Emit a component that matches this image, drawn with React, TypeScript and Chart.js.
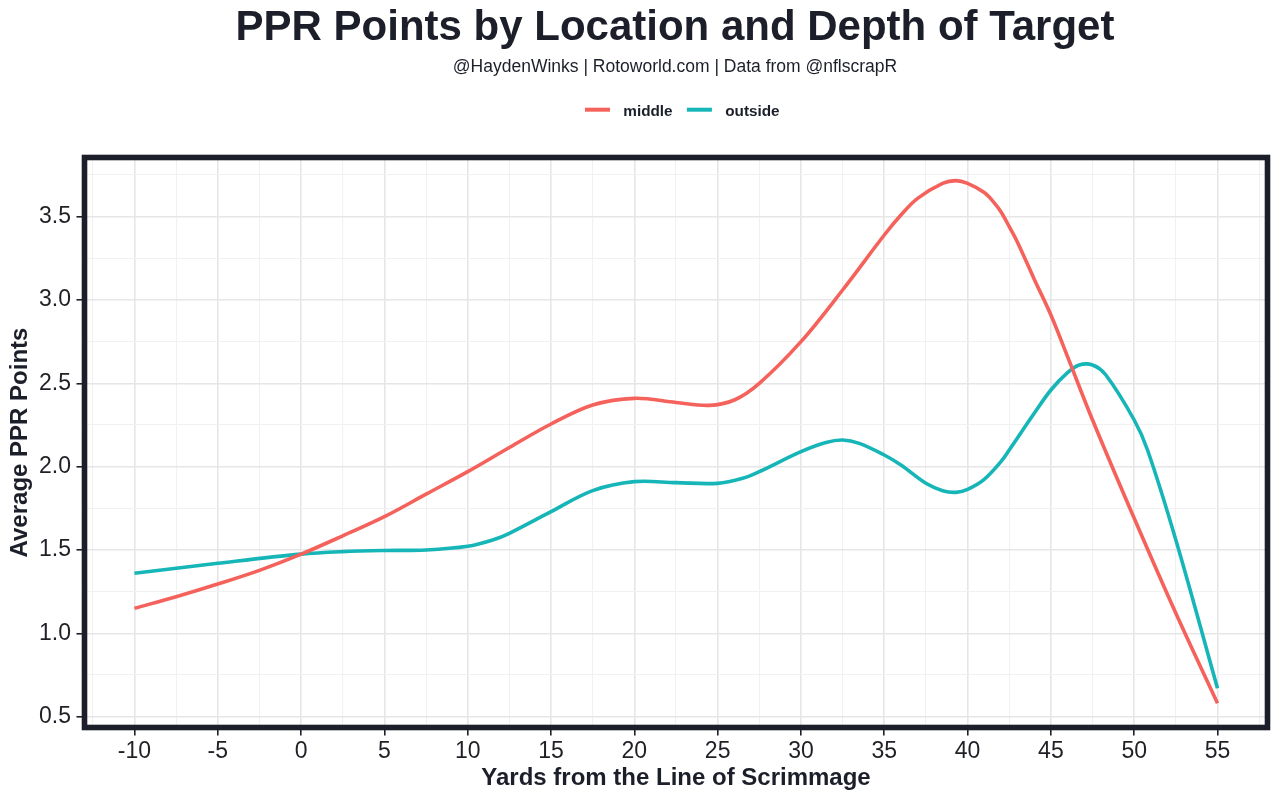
import React, { useEffect, useRef } from 'react';
import { Chart, registerables } from 'chart.js';

Chart.register(...registerables);

const FONT = "'Liberation Sans', Arial, Helvetica, sans-serif";
const INK = '#1c1f2a';
const TICK_INK = '#1f2026';

const TITLE = 'PPR Points by Location and Depth of Target';
const SUBTITLE = '@HaydenWinks | Rotoworld.com | Data from @nflscrapR';
const X_TITLE = 'Yards from the Line of Scrimmage';
const Y_TITLE = 'Average PPR Points';

const seriesLabels = ['middle', 'outside'];
const seriesColors = ['#F5625B', '#16B5B8'];

const middleYards = [-10, -7.5, -5, -2.5, 0, 2.5, 5, 7.5, 10, 12.5, 15, 17.5, 20, 22.5, 24.5, 26, 27.5, 30, 32.5, 35, 36, 37, 38.5, 39.3, 40, 41, 41.5, 42, 42.5, 43, 44, 45, 46, 47.5, 50, 52.5, 55];
const middlePoints = [1.15, 1.22, 1.296, 1.378, 1.475, 1.585, 1.70, 1.835, 1.97, 2.115, 2.256, 2.37, 2.41, 2.385, 2.368, 2.40, 2.50, 2.75, 3.06, 3.39, 3.51, 3.61, 3.70, 3.716, 3.70, 3.645, 3.595, 3.53, 3.44, 3.345, 3.125, 2.91, 2.66, 2.28, 1.69, 1.12, 0.58];

const outsideYards = [-10, -5, 0, 2.5, 5, 7.5, 10, 11.5, 12.5, 15, 17.5, 20, 22.5, 25, 26.5, 27.5, 30, 31.5, 32.5, 33.5, 35, 36, 37.5, 38.5, 39.3, 40, 41, 42, 42.5, 44, 45, 46, 46.7, 47.5, 48.3, 50, 50.8, 52.5, 55];
const outsidePoints = [1.36, 1.42, 1.475, 1.49, 1.497, 1.50, 1.522, 1.56, 1.60, 1.73, 1.856, 1.91, 1.904, 1.90, 1.93, 1.97, 2.09, 2.145, 2.16, 2.14, 2.07, 2.01, 1.90, 1.856, 1.846, 1.864, 1.924, 2.03, 2.10, 2.32, 2.46, 2.564, 2.61, 2.61, 2.55, 2.28, 2.10, 1.56, 0.67];

const xMajorTicks = [-10, -5, 0, 5, 10, 15, 20, 25, 30, 35, 40, 45, 50, 55];
const xMinorTicks = [-12.5, -7.5, -2.5, 2.5, 7.5, 12.5, 17.5, 22.5, 27.5, 32.5, 37.5, 42.5, 47.5, 52.5, 57.5];
const yMajorTicks = [0.5, 1.0, 1.5, 2.0, 2.5, 3.0, 3.5];
const yMinorTicks = [0.75, 1.25, 1.75, 2.25, 2.75, 3.25, 3.75];

const X_MIN = -13;
const X_MAX = 58;
const Y_MIN = 0.435;
const Y_MAX = 3.855;

const isMajorIn = (list: number[], v: number) => list.some((m) => Math.abs(m - v) < 1e-6);

const decorPlugin = {
  id: 'decor',
  afterDraw(chart: any) {
    const { ctx, chartArea } = chart;
    ctx.save();
    // panel border
    ctx.strokeStyle = INK;
    ctx.lineWidth = 5.6;
    ctx.strokeRect(
      chartArea.left,
      chartArea.top,
      chartArea.right - chartArea.left,
      chartArea.bottom - chartArea.top
    );
    const cx = (chartArea.left + chartArea.right) / 2 - 1;
    ctx.fillStyle = INK;
    ctx.textAlign = 'center';
    ctx.textBaseline = 'alphabetic';
    ctx.font = `bold 42px ${FONT}`;
    ctx.fillText(TITLE, cx, 40);
    ctx.font = `17.5px ${FONT}`;
    ctx.fillText(SUBTITLE, cx, 72.3);

    // legend
    ctx.font = `bold 15.3px ${FONT}`;
    ctx.textAlign = 'left';
    let x = 585;
    const keyY = 109.7;
    chart.data.datasets.forEach((ds: any) => {
      ctx.strokeStyle = ds.borderColor;
      ctx.lineWidth = 4;
      ctx.lineCap = 'butt';
      ctx.beginPath();
      ctx.moveTo(x, keyY);
      ctx.lineTo(x + 25, keyY);
      ctx.stroke();
      const tx = x + 38.3;
      ctx.fillStyle = INK;
      ctx.fillText(ds.label, tx, 115.7);
      x = tx + ctx.measureText(ds.label).width + 14.3;
    });
    ctx.restore();
  },
};

export default function App() {
  const canvasRef = useRef<HTMLCanvasElement | null>(null);

  useEffect(() => {
    const canvas = canvasRef.current;
    if (!canvas) return;

    const xAll = [...xMajorTicks, ...xMinorTicks].sort((a, b) => a - b);
    const yAll = [...yMajorTicks, ...yMinorTicks].sort((a, b) => a - b);

    const chart = new Chart(canvas, {
      type: 'line',
      data: {
        datasets: [
          {
            label: seriesLabels[0],
            data: middleYards.map((x, i) => ({ x, y: middlePoints[i] })),
            borderColor: seriesColors[0],
            backgroundColor: seriesColors[0],
          },
          {
            label: seriesLabels[1],
            data: outsideYards.map((x, i) => ({ x, y: outsidePoints[i] })),
            borderColor: seriesColors[1],
            backgroundColor: seriesColors[1],
          },
        ],
      },
      options: {
        animation: false,
        responsive: false,
        layout: { padding: { top: 157.5, right: 12.5, bottom: 0, left: 0 } },
        plugins: {
          legend: { display: false },
          tooltip: { enabled: false },
          title: { display: false },
        },
        elements: {
          point: { radius: 0, hoverRadius: 0 },
          line: { borderWidth: 3.6, tension: 0.35, borderCapStyle: 'butt', fill: false },
        },
        scales: {
          x: {
            type: 'linear',
            min: X_MIN,
            max: X_MAX,
            afterBuildTicks: (s: any) => {
              s.ticks = xAll.map((v) => ({ value: v }));
            },
            afterFit: (s: any) => {
              s.height = 73.5;
            },
            border: { display: false },
            grid: {
              color: (c: any) => (isMajorIn(xMajorTicks, c.tick?.value) ? '#e6e6e6' : '#f1f1f1'),
              lineWidth: (c: any) => (isMajorIn(xMajorTicks, c.tick?.value) ? 1.6 : 1.1),
              tickColor: (c: any) => (isMajorIn(xMajorTicks, c.tick?.value) ? INK : 'rgba(0,0,0,0)'),
              tickWidth: 1.6,
              tickLength: 8,
              drawTicks: true,
            },
            ticks: {
              autoSkip: false,
              maxRotation: 0,
              padding: 2,
              color: TICK_INK,
              font: { family: FONT, size: 23 },
              callback: (v: any) => (isMajorIn(xMajorTicks, Number(v)) ? String(Number(v)) : ''),
            },
            title: {
              display: true,
              text: X_TITLE,
              color: INK,
              font: { family: FONT, size: 24, weight: 'bold' },
              padding: { top: 0, bottom: 8 },
            },
          },
          y: {
            type: 'linear',
            min: Y_MIN,
            max: Y_MAX,
            afterBuildTicks: (s: any) => {
              s.ticks = yAll.map((v) => ({ value: v }));
            },
            afterFit: (s: any) => {
              s.width = 84.5;
            },
            border: { display: false },
            grid: {
              color: (c: any) => (isMajorIn(yMajorTicks, c.tick?.value) ? '#e6e6e6' : '#f1f1f1'),
              lineWidth: (c: any) => (isMajorIn(yMajorTicks, c.tick?.value) ? 1.6 : 1.1),
              tickColor: (c: any) => (isMajorIn(yMajorTicks, c.tick?.value) ? INK : 'rgba(0,0,0,0)'),
              tickWidth: 1.6,
              tickLength: 8,
              drawTicks: true,
            },
            ticks: {
              autoSkip: false,
              padding: 5.5,
              color: TICK_INK,
              font: { family: FONT, size: 23 },
              callback: (v: any) => (isMajorIn(yMajorTicks, Number(v)) ? Number(v).toFixed(1) : ''),
            },
            title: {
              display: true,
              text: Y_TITLE,
              color: INK,
              font: { family: FONT, size: 24, weight: 'bold' },
              padding: { top: 5.6, bottom: 0 },
            },
          },
        },
      } as any,
      plugins: [decorPlugin],
    });

    return () => {
      chart.destroy();
    };
  }, []);

  return (
    <div style={{ position: 'absolute', left: 0, top: 0, width: 1280, height: 801, background: '#ffffff' }}>
      <canvas ref={canvasRef} width={1280} height={801} style={{ display: 'block', width: 1280, height: 801 }} />
    </div>
  );
}
